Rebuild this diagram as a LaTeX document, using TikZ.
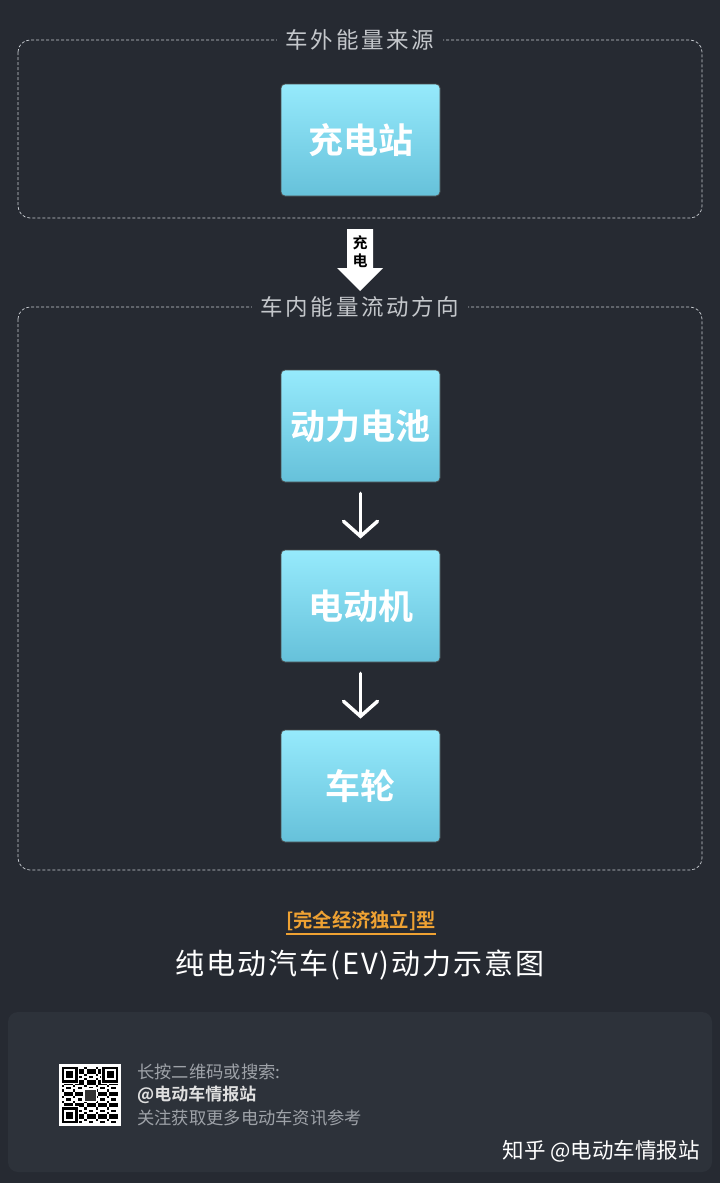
\documentclass[tikz,border=0pt]{standalone}
\usepackage{fontspec}
\setmainfont{Noto Sans CJK SC}[BoldFont={Noto Sans CJK SC Bold}]
\usetikzlibrary{arrows.meta}
\definecolor{bgcol}{HTML}{262A32}
\definecolor{panelcol}{HTML}{2D323A}
\definecolor{boxtop}{HTML}{96EAFC}
\definecolor{boxbot}{HTML}{66C1DA}
\definecolor{dashcol}{HTML}{C9CDD2}
\definecolor{labelcol}{HTML}{C4C7CB}
\definecolor{tagcol}{HTML}{EFA233}
\definecolor{footcol}{HTML}{9EA2A8}

\begin{document}
\begin{tikzpicture}[x=1pt,y=-1pt,
  energybox/.style={rounded corners=4pt, minimum width=159pt, minimum height=112pt,
    top color=boxtop, bottom color=boxbot, draw=black!70, line width=0.8pt,
    text=white, font=\fontsize{35}{35}\selectfont\bfseries},
  zonebox/.style={draw=dashcol, dash pattern=on 3pt off 2pt, line width=0.7pt, rounded corners=12pt},
  zonelabel/.style={fill=bgcol, text=labelcol, inner xsep=9pt,
    font=\fontsize{22.5}{22.5}\selectfont\addfontfeatures{LetterSpace=12}},
  flowarrow/.style={draw=white, line width=3.5pt, line cap=round,
    -{Straight Barb[length=15pt,width=34pt,line cap=round]}, shorten <=11pt, shorten >=11pt},
  foottext/.style={anchor=west, inner sep=0pt, font=\fontsize{17.3}{17.3}\selectfont}]
\useasboundingbox (0,0) rectangle (720,1183);
\fill[bgcol] (0,0) rectangle (720,1183);
\fill[panelcol, rounded corners=10pt] (8,1012) rectangle (712,1172);

\draw[zonebox] (18,40) rectangle (702,218);
\node[zonelabel] (outlabel) at (360,40) {车外能量来源};
\node[energybox] (station) at (360.5,140) {充电站};

\fill[white] (347,229) -- (373,229) -- (373,268) -- (383,268) -- (360,291) -- (337,268) -- (347,268) -- cycle;
\node[inner sep=0pt, align=center, font=\fontsize{15}{18}\selectfont\bfseries] (chargetext) at (360,252) {充\\电};

\draw[zonebox] (18,307) rectangle (702,870);
\node[zonelabel] (inlabel) at (360,307) {车内能量流动方向};
\node[energybox] (battery) at (360.5,426) {动力电池};
\node[energybox] (motor) at (360.5,606) {电动机};
\node[energybox] (wheel) at (360.5,786) {车轮};
\draw[flowarrow] (battery) -- (motor);
\draw[flowarrow] (motor) -- (wheel);

\node[inner xsep=0pt, inner ysep=3pt, text=tagcol, font=\fontsize{19.3}{19.3}\selectfont\bfseries] (typetag) at (361,921) {[完全经济独立]型};
\draw[tagcol, line width=1.4pt] (typetag.south west) -- (typetag.south east);
\node[text=white, font=\fontsize{29}{29}\selectfont\addfontfeatures{LetterSpace=7}] (title) at (360,965) {纯电动汽车(EV)动力示意图};

\fill[white] (59,1064) rectangle (121,1126);
\foreach \i in {0,...,24}{
  \foreach \j in {0,...,24}{
    \pgfmathtruncatemacro{\on}{mod(\i*\i*3+\j*7+\i*\j*5+\j*\j,5)<2}
    \ifnum\on=1 \fill[black] (62+\i*2.24,1067+\j*2.24) rectangle ++(2.24,2.24); \fi
  }
}
\foreach \qx/\qy in {62/1067, 102.3/1067, 62/1107.3}{
  \fill[white] (\qx-1,\qy-1) rectangle ++(17.7,17.7);
  \fill[black] (\qx,\qy) rectangle ++(15.7,15.7);
  \fill[white] (\qx+2.24,\qy+2.24) rectangle ++(11.2,11.2);
  \fill[black] (\qx+4.48,\qy+4.48) rectangle ++(6.72,6.72);
}
\fill[white] (83,1088) rectangle (97,1102);
\fill[black!80] (84.5,1089.5) rectangle (95.5,1100.5);

\node[foottext, text=footcol] (hint) at (137,1072) {长按二维码或搜索:};
\node[foottext, text=white!88!black, font=\fontsize{17}{17}\selectfont\bfseries] (account) at (137,1095) {@电动车情报站};
\node[foottext, text=footcol] (follow) at (137,1118) {关注获取更多电动车资讯参考};

\node[anchor=east, inner sep=0pt, text=white, font=\fontsize{21.5}{21.5}\selectfont] (zhihu) at (700,1151) {知乎\ @电动车情报站};
\end{tikzpicture}
\end{document}
